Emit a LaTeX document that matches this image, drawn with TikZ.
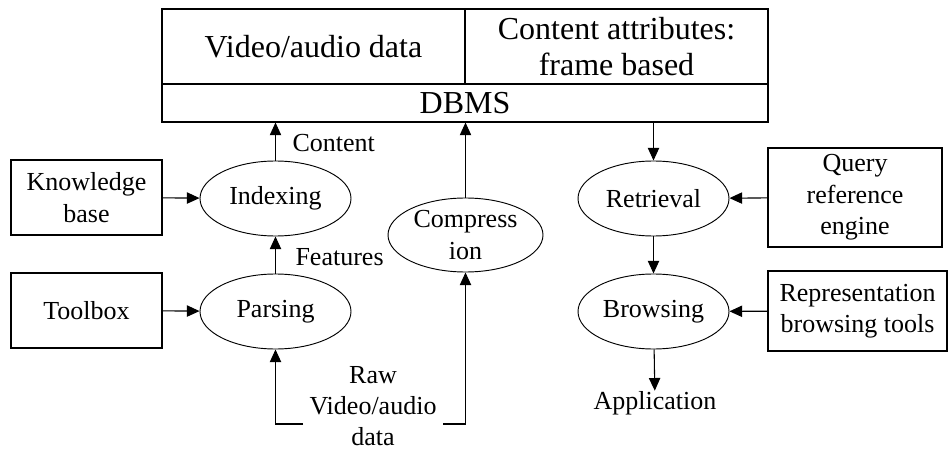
\documentclass[tikz,border=0pt]{standalone}
\usepackage{fontspec}
\setmainfont{Liberation Serif}
\usetikzlibrary{arrows.meta,shapes.geometric}
\tikzset{>={Triangle[length=9.5pt,width=8.5pt]},
  box/.style={draw, line width=0.8pt, align=center, inner sep=0pt, font=\fontsize{19.5}{23.5}\selectfont},
  oval/.style={draw, ellipse, line width=0.7pt, align=center, inner sep=0pt, minimum width=151*0.75pt, minimum height=75*0.75pt, font=\fontsize{19.5}{23.5}\selectfont},
  topbox/.style={draw, line width=0.8pt, align=center, inner sep=0pt, font=\fontsize{24}{27}\selectfont},
  lbl/.style={inner sep=0pt, align=center, font=\fontsize{19.5}{23.5}\selectfont}}

\begin{document}
\begin{tikzpicture}[x=0.75pt, y=-0.75pt, line width=0.8pt]
    \useasboundingbox (0,0) rectangle (948,452);
    % database on top
    \node[topbox, minimum width=303*0.75pt, minimum height=75*0.75pt] (vid) at (313.5,46.5) {Video/audio data};
    \node[topbox, minimum width=303*0.75pt, minimum height=75*0.75pt] (attr) at (616.5,46.5) {Content attributes:\\frame based};
    \node[topbox, minimum width=606*0.75pt, minimum height=38*0.75pt] (dbms) at (465,103) {DBMS};
    % left side
    \node[box, minimum width=151*0.75pt, minimum height=75*0.75pt] (kb) at (86.5,197.5) {Knowledge\\base};
    \node[box, minimum width=151*0.75pt, minimum height=75*0.75pt] (tools) at (86.5,310.5) {Toolbox};
    \node[oval] (idx) at (275.5,198.5) {Indexing};
    \node[oval] (pars) at (275.5,311.5) {Parsing};
    \node[oval, minimum width=155*0.75pt, minimum height=74*0.75pt] (comp) at (465.5,235) {Compress\\ion};
    % right side
    \node[oval] (retr) at (653.5,198.5) {Retrieval};
    \node[oval] (brow) at (653.5,311.5) {Browsing};
    \node[box, minimum width=174*0.75pt, minimum height=99*0.75pt] (query) at (855,197.5) {Query\\reference\\engine};
    \node[box, minimum width=179*0.75pt, minimum height=80*0.75pt] (repr) at (857.5,311) {Representation\\browsing tools};
    \node[lbl] (app) at (655,403) {Application};
    % labels
    \node[lbl, anchor=west] (cont) at (292,143) {Content};
    \node[lbl, anchor=west] (feat) at (295,257) {Features};
    \node[lbl] (raw) at (373,406) {Raw\\Video/audio\\data};
    \coordinate (rawl) at (303,424);
    \coordinate (rawr) at (443,424);
    % connectors
    \draw[->] (idx) -- (idx |- dbms.south);
    \draw[->] (comp) -- (comp |- dbms.south);
    \draw[->] (retr |- dbms.south) -- (retr);
    \draw[->] (pars) -- (idx);
    \draw[->] (kb) -- (idx);
    \draw[->] (tools) -- (pars);
    \draw[->] (rawl) -| (pars);
    \draw[->] (rawr) -| (comp);
    \draw[->] (retr) -- (brow);
    \draw[->] (brow) -- (app);
    \draw[->] (query) -- (retr);
    \draw[->] (repr) -- (brow);
\end{tikzpicture}
\end{document}
